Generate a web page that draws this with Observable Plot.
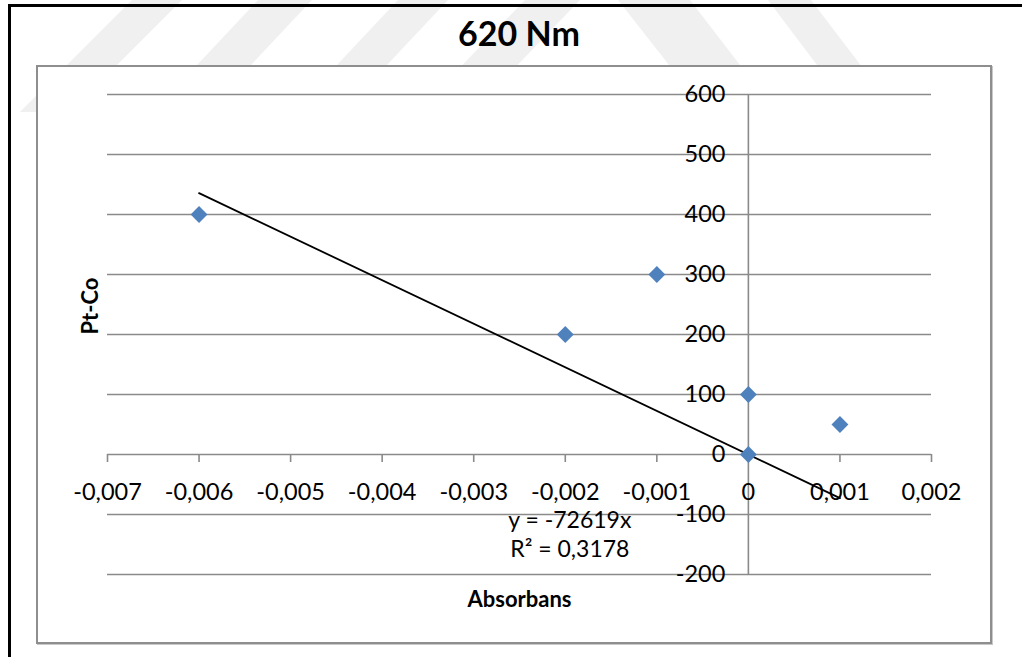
<!DOCTYPE html>
<html>
<head>
<meta charset="utf-8">
<script src="https://cdn.jsdelivr.net/npm/d3@7"></script>
<script src="https://cdn.jsdelivr.net/npm/@observablehq/plot@0.6"></script>
<style>
  html, body { margin: 0; padding: 0; background: #fff; }
  #page { position: relative; width: 1022px; height: 657px; overflow: hidden; font-family: Lato, "Open Sans", sans-serif; }
  #bg { position: absolute; left: 0; top: 0; }
  #edgeTop { position: absolute; left: 8px; top: 4px; right: 0; height: 3px; background: #000; }
  #edgeLeft { position: absolute; left: 8px; top: 4px; width: 3px; bottom: 0; background: #000; }
  #box { position: absolute; left: 36px; top: 65px; width: 956px; height: 579px; box-sizing: border-box;
         border: 2px solid #8e8e8e; background: #fff; box-shadow: 1px 1px 0 #c8c8c8; }
  #title { position: absolute; left: 0; width: 1038px; top: 12px; text-align: center;
           font: bold 34px Lato, sans-serif; color: #000; }
  #chart { position: absolute; left: 0; top: 0; }
</style>
</head>
<body>
<div id="page">
  <svg id="bg" width="1022" height="657">
    <g fill="#f0f0f0">
      <polygon points="132,0 182,0 70,112 20,112"/>
      <polygon points="258,0 312,0 190,130 136,130"/>
      <polygon points="398,0 448,0 326,130 276,130"/>
      <polygon points="525,0 580,0 455,130 400,130"/>
      <polygon points="618,0 690,0 790,130 720,130"/>
      <polygon points="768,0 811,0 910,130 866,130"/>
    </g>
  </svg>
  <div id="edgeTop"></div>
  <div id="edgeLeft"></div>
  <div id="box"></div>
  <div id="title">620 Nm</div>
  <div id="chart"></div>
</div>
<script>
// Measured samples: absorbance vs. Pt-Co colour
const absorbans = [-0.006, -0.002, -0.001, 0, 0, 0.001];
const ptCo = [400, 200, 300, 100, 0, 50];

// Linear trendline through the origin and its fit
const slope = -72619;
const rSquared = "0,3178";

// Axis ticks and their labels (decimal comma)
const xTicks = [-0.007, -0.006, -0.005, -0.004, -0.003, -0.002, -0.001, 0, 0.001, 0.002];
const xTickLabels = ["-0,007", "-0,006", "-0,005", "-0,004", "-0,003", "-0,002", "-0,001", "0", "0,001", "0,002"];
const yTicks = [-200, -100, 0, 100, 200, 300, 400, 500, 600];
const yTickLabels = ["-200", "-100", "0", "100", "200", "300", "400", "500", "600"];

const points = absorbans.map((x, i) => ({x, y: ptCo[i]}));
const trend = d3.extent(absorbans).map(x => ({x, y: slope * x}));
const equation = `y = ${String(slope)}x\nR² = ${rSquared}`;

const grid = "#8a8a8a";
const font = "Lato, sans-serif";

const chart = Plot.plot({
  width: 1022,
  height: 657,
  marginLeft: 107,
  marginRight: 91,
  marginTop: 94,
  marginBottom: 83,
  style: {background: "transparent", fontFamily: font, color: "#000", overflow: "visible"},
  x: {domain: [-0.007, 0.002], axis: null},
  y: {domain: [-200, 600], axis: null},
  marks: [
    // horizontal gridlines
    Plot.ruleY(yTicks, {stroke: grid, strokeWidth: 1.6}),
    // vertical axis crossing at x = 0
    Plot.ruleX([0], {stroke: grid, strokeWidth: 1.6}),
    // tick marks on the horizontal axis
    Plot.ruleX(xTicks, {x: d => d, y1: 0, y2: 0, insetBottom: -8, stroke: grid, strokeWidth: 1.6}),
    // tick labels
    Plot.text(xTicks, {x: d => d, y: 0, text: (d, i) => xTickLabels[i], dy: 38, fontSize: 23.5, fill: "#000"}),
    Plot.text(yTicks, {x: 0, y: d => d, text: (d, i) => yTickLabels[i], textAnchor: "end", dx: -23, fontSize: 23.5, fill: "#000"}),
    // trendline
    Plot.line(trend, {x: "x", y: "y", stroke: "#000", strokeWidth: 1.8}),
    // samples
    Plot.dot(points, {x: "x", y: "y", symbol: "diamond2", r: 7.6, fill: "#4F81BD", stroke: "none"}),
    // trendline equation
    Plot.text([equation], {x: -0.00195, y: -100, text: d => d, dy: 19, fontSize: 23, lineHeight: 1.22, fill: "#000"}),
    // axis titles
    Plot.text(["Absorbans"], {frameAnchor: "bottom", text: d => d, dy: 32, fontSize: 22, fontWeight: "bold", fill: "#000"}),
    Plot.text(["Pt-Co"], {frameAnchor: "left", text: d => d, dx: -17, dy: 0, rotate: -90, fontSize: 22, fontWeight: "bold", fill: "#000"})
  ]
});
document.getElementById("chart").appendChild(chart);
</script>
</body>
</html>
